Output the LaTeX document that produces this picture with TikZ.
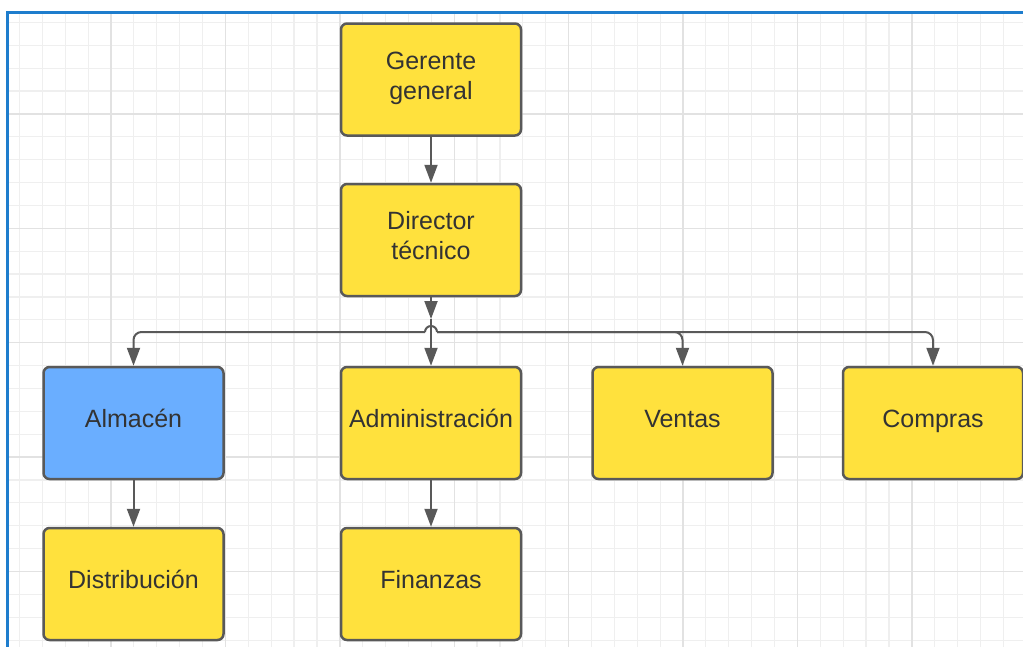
\documentclass[tikz,border=0pt]{standalone}
\usepackage{fontspec}
\setmainfont{Liberation Sans}
\usetikzlibrary{arrows.meta}

\definecolor{boxyellow}{HTML}{FFE13D}
\definecolor{boxblue}{HTML}{6AAEFF}
\definecolor{linegray}{HTML}{595959}
\definecolor{textgray}{HTML}{333333}
\definecolor{frameblue}{HTML}{1E7DCD}
\definecolor{gridminor}{HTML}{EFEFEF}
\definecolor{gridmajor}{HTML}{E2E2E2}

\def\boxw{180}
\def\boxh{112}
\def\busy{332}
\def\gridstep{22.88}
\def\linestrut{\rule[-15pt]{0pt}{39pt}} % keeps baselines where the chart has them
\def\upstrut{\rule{0pt}{24pt}}          % same top for the first of two lines

\tikzset{
  unitbox/.style={draw=linegray, line width=2.5pt, fill=boxyellow,
    rounded corners=6pt, minimum width=\boxw pt, minimum height=\boxh pt,
    align=center, text=textgray,
    execute at begin node=\linestrut, execute at end node=\linestrut},
  link/.style={draw=linegray, line width=2pt,
    -{Triangle[length=18pt,width=13pt]}},
  wire/.style={draw=linegray, line width=2pt},
}

\begin{document}
\begin{tikzpicture}[x=1pt, y=-1pt, nodes = {font=\fontsize{25}{30}\selectfont}]
    \useasboundingbox (0,0) rectangle (1023,646);
    % Grid paper behind the chart
    \begin{scope}
      \clip (7,12) rectangle (1023,646);
      \foreach \i in {0,...,45} {
        \pgfmathsetmacro{\gx}{-3.4+\gridstep*\i}   % minor step
        \pgfmathsetmacro{\gy}{-0.5+\gridstep*\i}
        \draw[gridminor, line width=1.2pt] (\gx,0) -- (\gx,660);
        \draw[gridminor, line width=1.2pt] (0,\gy) -- (1030,\gy);
      }
      \foreach \i in {0,...,9} {
        \pgfmathsetmacro{\gx}{-3.4+5*\gridstep*\i} % major step
        \pgfmathsetmacro{\gy}{-0.5+5*\gridstep*\i}
        \draw[gridmajor, line width=1.4pt] (\gx,0) -- (\gx,660);
        \draw[gridmajor, line width=1.4pt] (0,\gy) -- (1030,\gy);
      }
    \end{scope}
    \draw[frameblue, line width=3pt] (7,660) -- (7,12) -- (1030,12);

    % Boxes
    \node[unitbox] (ger) at (431,79.5) {\upstrut Gerente\\general};
    \node[unitbox] (dir) at (431,240) {\upstrut Director\\técnico};
    \node[unitbox, fill=boxblue] (alm) at (133.5,423) {Almacén};
    \node[unitbox] (adm) at (431,423) {Administración};
    \node[unitbox] (ven) at (682.5,423) {Ventas};
    \node[unitbox] (com) at (933,423) {Compras};
    \node[unitbox] (dis) at (133.5,584) {Distribución};
    \node[unitbox] (fin) at (431,584) {Finanzas};

    % Connectors
    \coordinate (stub) at (431,319);
    \coordinate (bus) at (431,\busy);
    \draw[link] (ger) -- (dir);
    \draw[link] (dir) -- (stub);
    \draw[link] (stub) -- (adm);
    \draw[wire] (425,\busy) arc[start angle=180, end angle=360, radius=6]; % line hop
    \draw[link, rounded corners=8pt] (425,\busy) -- (alm.north |- bus) -- (alm);
    \draw[link, rounded corners=8pt] (437,\busy) -- (ven.north |- bus) -- (ven);
    \draw[link, rounded corners=8pt] (437,\busy) -- (com.north |- bus) -- (com);
    \draw[link] (alm) -- (dis);
    \draw[link] (adm) -- (fin);
\end{tikzpicture}
\end{document}
